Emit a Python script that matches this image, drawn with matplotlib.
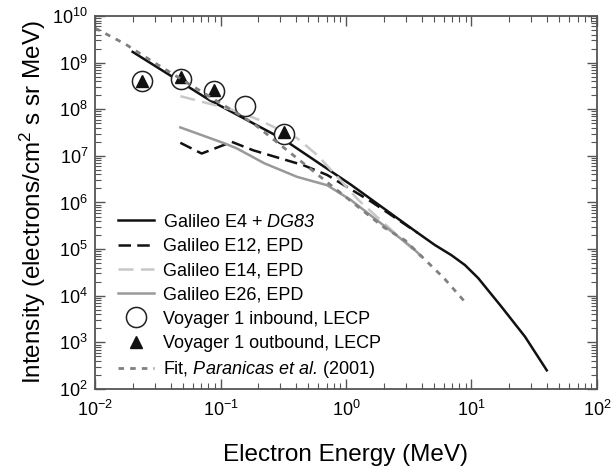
import numpy as np
import matplotlib.pyplot as plt

plt.rcParams['font.family'] = ['Liberation Sans', 'DejaVu Sans']
plt.rcParams['mathtext.fontset'] = 'custom'
plt.rcParams['mathtext.rm'] = 'Liberation Sans'
plt.rcParams['mathtext.it'] = 'Liberation Sans:italic'
plt.rcParams['mathtext.sf'] = 'Liberation Sans:italic'

# values (log10 of energy in MeV, log10 of intensity)
e4_logE = [-1.70, -1.09, -0.49, 0.04, 0.56, 0.707, 0.84, 0.947, 1.053, 1.24, 1.427, 1.60]
e4_logI = [9.23, 8.20, 7.34, 6.38, 5.37, 5.09, 4.87, 4.66, 4.38, 3.76, 3.12, 2.40]

e12_logE = [-1.32, -1.15, -0.91, -0.74, -0.34, -0.15, 0.20, 0.57]
e12_logI = [7.28, 7.05, 7.30, 7.12, 6.80, 6.59, 6.02, 5.35]

e14_logE = [-1.32, -0.92, -0.70, -0.39, -0.23, -0.12, 0.10, 0.60]
e14_logI = [8.28, 8.00, 7.78, 7.38, 7.02, 6.70, 6.05, 4.83]

e26_logE = [-1.32, -0.97, -0.87, -0.65, -0.39, -0.15, 0.04, 0.52, 0.60]
e26_logI = [7.61, 7.27, 7.16, 6.84, 6.55, 6.37, 6.05, 5.05, 4.85]

fit_logE = [-2.0, -1.76, -1.54, -0.74, 0.30, 0.47, 0.78, 0.947]
fit_logI = [9.74, 9.40, 9.02, 7.70, 5.47, 5.19, 4.38, 3.87]

voy_in_E = [0.0236, 0.0485, 0.0885, 0.156, 0.32]
voy_in_I = [4.0e8, 4.4e8, 2.45e8, 1.18e8, 3.0e7]
voy_out_E = [0.0236, 0.0485, 0.0885, 0.32]
voy_out_I = [4.0e8, 4.8e8, 2.6e8, 3.3e7]


def lin(v):
    return 10 ** np.array(v)


fig = plt.figure(figsize=(6.15, 4.73), dpi=100)
ax = fig.add_axes([0.1545, 0.1776, 0.8162, 0.7886])

ax.plot(lin(e4_logE), lin(e4_logI), color='#111111', lw=1.8,
        label='Galileo E4 + $\\mathsf{DG83}$')
ax.plot(lin(e12_logE), lin(e12_logI), color='#111111', lw=1.8,
        dashes=(5, 2.5), label='Galileo E12, EPD')
ax.plot(lin(e14_logE), lin(e14_logI), color='#c8c8c8', lw=1.8,
        dashes=(6, 3), label='Galileo E14, EPD')
ax.plot(lin(e26_logE), lin(e26_logI), color='#999999', lw=1.8,
        label='Galileo E26, EPD')
ax.plot(voy_in_E, voy_in_I, ls='none', marker='o', ms=14.5, mfc='white',
        mec='#222222', mew=1.1, label='Voyager 1 inbound, LECP')
ax.plot(voy_out_E, voy_out_I, ls='none', marker='^', ms=8, mfc='#111111',
        mec='#111111', label='Voyager 1 outbound, LECP')
ax.plot(lin(fit_logE), lin(fit_logI), color='#808080', lw=2.0,
        dashes=(2, 2.2), label='Fit, $\\mathsf{Paranicas\\ et\\ al.}\\,$(2001)')

ax.set_xscale('log')
ax.set_yscale('log')
ax.set_xlim(1e-2, 1e2)
ax.set_ylim(1e2, 1e10)
ax.set_yticks([10.0 ** k for k in range(2, 11)])
ax.set_xticks([10.0 ** k for k in range(-2, 3)])

ax.tick_params(which='both', direction='in', top=True, right=True,
               color='#555555')
ax.tick_params(which='major', length=7, width=1.0, labelsize=13, pad=5)
ax.tick_params(axis='x', which='major', pad=8)
ax.tick_params(which='minor', length=4, width=0.8)
for s in ax.spines.values():
    s.set_color('#555555')
    s.set_linewidth(1.3)

ax.set_xlabel('Electron Energy (MeV)', fontsize=17.5, labelpad=17)
ax.set_ylabel('Intensity (electrons/cm$^2$ s sr MeV)', fontsize=17.5, labelpad=3)

ax.legend(loc='lower left', bbox_to_anchor=(0.02, -0.01), frameon=False,
          fontsize=13, handlelength=2.0, handletextpad=0.5,
          labelspacing=0.4, borderaxespad=0.3)

plt.savefig('out.png', dpi=100)
